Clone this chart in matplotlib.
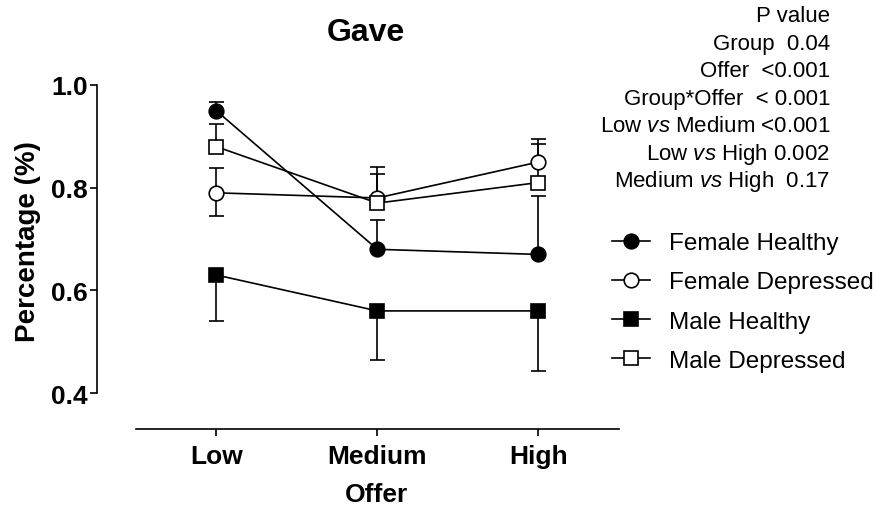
import numpy as np
import matplotlib
matplotlib.use("Agg")
import matplotlib.pyplot as plt
from matplotlib.lines import Line2D

plt.rcParams['font.family'] = ['Liberation Sans', 'DejaVu Sans']
plt.rcParams['mathtext.fontset'] = 'custom'
plt.rcParams['mathtext.rm'] = 'Liberation Sans'
plt.rcParams['mathtext.it'] = 'Liberation Sans:italic'

# --- data ---
offers = ['Low', 'Medium', 'High']
groups = ['Female Healthy', 'Female Depressed', 'Male Healthy', 'Male Depressed']

female_healthy = [0.95, 0.68, 0.67]
female_depressed = [0.79, 0.78, 0.85]
male_healthy = [0.63, 0.56, 0.56]
male_depressed = [0.88, 0.77, 0.81]

# error bars (upper / lower), only the visible halves
fh_up, fh_lo = [0.016, 0.058, 0.113], [0, 0, 0]
fd_up, fd_lo = [0.048, 0.060, 0.045], [0.046, 0, 0]
mh_up, mh_lo = [0, 0, 0], [0.090, 0.095, 0.117]
md_up, md_lo = [0.044, 0.056, 0.075], [0, 0, 0]

p_lines = ['P value',
           'Group  0.04',
           'Offer  <0.001',
           'Group*Offer  < 0.001',
           r'Low $\mathit{vs}$ Medium <0.001',
           r'Low $\mathit{vs}$ High 0.002',
           r'Medium $\mathit{vs}$ High  0.17']

series = [
    (female_healthy, fh_up, fh_lo, 'o', 'black'),
    (female_depressed, fd_up, fd_lo, 'o', 'white'),
    (male_healthy, mh_up, mh_lo, 's', 'black'),
    (male_depressed, md_up, md_lo, 's', 'white'),
]

W, H = 876, 510
fig = plt.figure(figsize=(W / 100, H / 100), dpi=100)
ax = fig.add_axes([135.7 / W, 80 / H, (619 - 135.7) / W, 344 / H])

x = np.arange(len(offers))
lw = 1.2
cap = 0.046

for vals, up, lo, mk, face in series:
    y = np.array(vals)
    up = np.array(up)
    lo = np.array(lo)
    m = up > 0
    ax.vlines(x[m], y[m], y[m] + up[m], color='black', lw=lw, zorder=1, clip_on=False)
    ax.hlines(y[m] + up[m], x[m] - cap, x[m] + cap, color='black', lw=lw, zorder=1, clip_on=False)
    m = lo > 0
    ax.vlines(x[m], y[m] - lo[m], y[m], color='black', lw=lw, zorder=1, clip_on=False)
    ax.hlines(y[m] - lo[m], x[m] - cap, x[m] + cap, color='black', lw=lw, zorder=1, clip_on=False)
    ax.plot(x, y, color='black', lw=lw, zorder=2, clip_on=False)
    ax.plot(x, y, ls='none', marker=mk, markersize=10.5, markerfacecolor=face,
            markeredgecolor='black', markeredgewidth=1.2, zorder=3, clip_on=False)

ax.set_xlim(-0.5, 2.5)
ax.set_ylim(0.33, 1.0)
ax.set_xticks(x)
ax.set_xticklabels(offers)
ax.set_yticks([0.4, 0.6, 0.8, 1.0])
ax.set_yticklabels(['0.4', '0.6', '0.8', '1.0'])

for s in ['top', 'right']:
    ax.spines[s].set_visible(False)
ax.spines['left'].set_position(('outward', 27.9))
ax.spines['left'].set_bounds(0.4, 1.0)
ax.spines['left'].set_linewidth(lw)
ax.spines['bottom'].set_linewidth(lw)

ax.tick_params(axis='both', direction='out', length=5, width=lw, labelsize=19)
ax.tick_params(axis='y', pad=1.5)
ax.tick_params(axis='x', pad=6)
for lab in ax.get_xticklabels() + ax.get_yticklabels():
    lab.set_fontweight('bold')

fig.text(28 / W, 1 - 242 / H, 'Percentage (%)', rotation=90, ha='center', va='center',
         fontsize=20, fontweight='bold')
fig.text(377 / W, 1 - 495 / H, 'Offer', ha='center', va='center', fontsize=19, fontweight='bold')
fig.text(366 / W, 1 - 33 / H, 'Gave', ha='center', va='center', fontsize=23, fontweight='bold')

# p-value block
for i, t in enumerate(p_lines):
    fig.text(830 / W, 1 - (17 + 27.5 * i) / H, t, ha='right', va='center', fontsize=16)

handles = [Line2D([0], [0], color='black', lw=lw, marker=mk, markersize=10.5,
                  markerfacecolor=face, markeredgecolor='black', markeredgewidth=1.2)
           for _, _, _, mk, face in series]
fig.legend(handles, groups, loc='center left', bbox_to_anchor=(612 / W, 1 - 303 / H),
           frameon=False, fontsize=17.5, handlelength=1.56, handletextpad=0.8,
           labelspacing=0.7, borderpad=0, borderaxespad=0)

fig.savefig('out.png', dpi=100)
